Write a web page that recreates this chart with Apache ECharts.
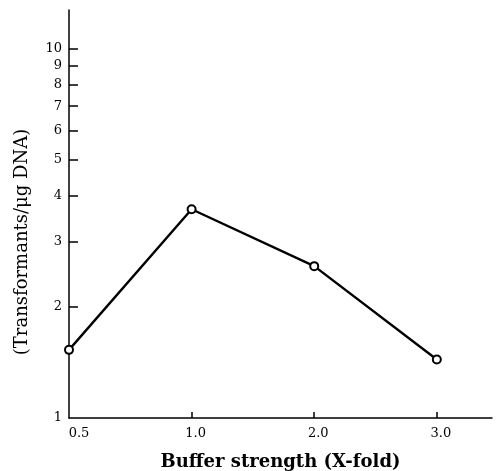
<!DOCTYPE html>
<html>
<head>
<meta charset="utf-8">
<script src="https://cdn.jsdelivr.net/npm/echarts@6/dist/echarts.min.js"></script>
<style>html,body{margin:0;padding:0;background:#fff;}#c{width:496px;height:471px;}</style>
</head>
<body>
<div id="c"></div>
<script>
const categories = ['0.5', '1.0', '2.0', '3.0'];
const transformants = [1.53, 3.68, 2.58, 1.44];
const yTickLabels = [1, 2, 3, 4, 5, 6, 7, 8, 9, 10];
const yTickMarks = [2, 3, 4, 5, 6, 7, 8, 9, 10];
const xTitle = 'Buffer strength (X-fold)';
const yTitle = '(Transformants/\u03bcg DNA)';

const chart = echarts.init(document.getElementById('c'), null, {renderer: 'canvas'});
const serif = 'DejaVu Serif';
chart.setOption({
  animation: false,
  backgroundColor: '#fff',
  grid: {left: 69, right: 4, top: 10, bottom: 53, containLabel: false, outerBoundsMode: 'none'},
  xAxis: {
    type: 'value', min: 0, max: 3.45,
    splitLine: {show: false},
    axisLine: {show: true, lineStyle: {color: '#000', width: 1.5}},
    axisTick: {show: true, inside: true, length: 6, customValues: [1, 2, 3], lineStyle: {color: '#000', width: 1.5}},
    axisLabel: {
      customValues: [0, 1, 2, 3],
      formatter: v => {
        const i = Math.round(v);
        return i === 0 ? '{a|' + categories[i] + '}' : '{b|' + categories[i] + '}';
      },
      rich: {
        a: {fontFamily: serif, fontSize: 13, color: '#000', padding: [0, 0, 0, 20]},
        b: {fontFamily: serif, fontSize: 13, color: '#000', padding: [0, 0, 0, 8]}
      },
      color: '#000', fontFamily: serif, fontSize: 13, margin: 9
    },
    name: xTitle, nameLocation: 'middle', nameGap: 35,
    nameTextStyle: {color: '#000', fontFamily: serif, fontWeight: 'bold', fontSize: 18}
  },
  yAxis: {
    type: 'log', logBase: 10, min: 1, max: 12.76,
    splitLine: {show: false},
    axisLine: {show: true, lineStyle: {color: '#000', width: 1.5}},
    axisTick: {show: true, inside: true, length: 9, customValues: yTickMarks, lineStyle: {color: '#000', width: 1.5}},
    axisLabel: {
      customValues: yTickLabels,
      formatter: v => String(Math.round(v)),
      color: '#000', fontFamily: serif, fontSize: 13, margin: 7
    },
    name: yTitle, nameLocation: 'middle', nameGap: 38, nameRotate: 90,
    nameTextStyle: {color: '#000', fontFamily: serif, fontSize: 18, padding: [0, 0, 0, -56]}
  },
  series: [{
    type: 'line',
    data: transformants.map((v, i) => [i, v]),
    symbol: 'circle', symbolSize: 8,
    itemStyle: {color: '#fff', borderColor: '#000', borderWidth: 2},
    lineStyle: {color: '#000', width: 2.4}
  }]
});
</script>
</body>
</html>
